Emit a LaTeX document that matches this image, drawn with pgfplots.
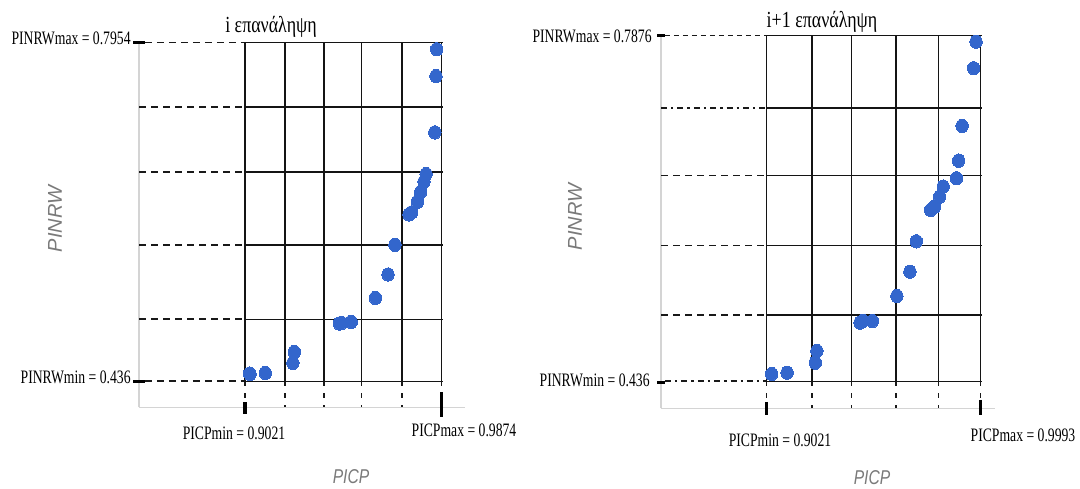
\documentclass[border=0pt]{standalone}
\usepackage{pgfplots}
\pgfplotsset{compat=1.18}
\usepackage{fontspec}
\setmainfont{Liberation Serif}
\newfontfamily\lblfont[FakeStretch=0.72]{Liberation Serif}
\newfontfamily\ttlfont[FakeStretch=0.78]{Liberation Serif}
\newfontfamily\axlfont{Liberation Sans}
\newfontfamily\axlfontn[FakeStretch=0.78]{Liberation Sans}
\definecolor{ptblue}{HTML}{3366CC}
\definecolor{axgray}{HTML}{D4D4D4}
\definecolor{lblgray}{HTML}{7A7A7A}
\tikzset{
  gridl/.style={black!92, line width=0.75pt},
  dsh/.style={black!90, line width=0.8pt, dash pattern=on 3.5pt off 2.5pt},
  dshs/.style={black!90, line width=0.8pt, dash pattern=on 2.5pt off 2pt},
  dshd/.style={black!90, line width=0.8pt, dash pattern=on 3pt off 2pt on 1.2pt off 2pt},
  vdsh/.style={black!90, line width=0.75pt, dash pattern=on 2.5pt off 3.5pt},
  tk/.style={black, line width=1.6pt},
  lbl/.style={inner sep=0pt, font=\lblfont\fontsize{9.5}{11}\selectfont},
  ttl/.style={inner sep=0pt, font=\ttlfont\fontsize{11.5}{13}\selectfont},
}
\pgfplotsset{
  panel/.style={
    anchor=south west, scale only axis,
    axis x line=bottom, axis y line=left,
    axis line style={draw=axgray, line width=0.6pt, -},
    xtick=\empty, ytick=\empty, clip=false, enlargelimits=false,
  },
  pts/.style={only marks, color=ptblue, mark=*, mark size=3.1pt,
    mark options={draw=ptblue, fill=ptblue, line width=0pt, yscale=1.08}},
}
\begin{document}
\begin{tikzpicture}
\path[use as bounding box] (0,0) rectangle (540pt,244pt);

% ---------------- left panel: i iteration ----------------
\begin{axis}[panel, at={(69.5pt,40.35pt)}, width=163pt, height=182.4pt,
  xmin=0.8561, xmax=0.9976, ymin=0.4084, ymax=0.7954]
  % dashed guides
  \draw[dsh] (axis cs:0.8587,0.7954) -- (axis cs:0.9021,0.7954);
  \draw[dsh] (axis cs:0.8561,0.7269) -- (axis cs:0.9021,0.7269);
  \draw[dsh] (axis cs:0.8561,0.6579) -- (axis cs:0.9021,0.6579);
  \draw[dsh] (axis cs:0.8561,0.5804) -- (axis cs:0.9021,0.5804);
  \draw[dsh] (axis cs:0.8561,0.5018) -- (axis cs:0.9021,0.5018);
  \draw[dsh] (axis cs:0.8587,0.4360) -- (axis cs:0.9021,0.4360);
  \draw[vdsh] (axis cs:0.9021,0.436) -- (axis cs:0.9021,0.4140);
  \draw[vdsh] (axis cs:0.9194,0.436) -- (axis cs:0.9194,0.4084);
  \draw[vdsh] (axis cs:0.9363,0.436) -- (axis cs:0.9363,0.4084);
  \draw[vdsh] (axis cs:0.9527,0.436) -- (axis cs:0.9527,0.4084);
  \draw[vdsh] (axis cs:0.9703,0.436) -- (axis cs:0.9703,0.4084);
  \draw[vdsh] (axis cs:0.9874,0.436) -- (axis cs:0.9874,0.4243);
  % grid
  \draw[gridl] (axis cs:0.9021,0.4360) -- (axis cs:0.9021,0.7954);
  \draw[gridl] (axis cs:0.9194,0.4360) -- (axis cs:0.9194,0.7954);
  \draw[gridl] (axis cs:0.9363,0.4360) -- (axis cs:0.9363,0.7954);
  \draw[gridl] (axis cs:0.9527,0.4360) -- (axis cs:0.9527,0.7954);
  \draw[gridl] (axis cs:0.9703,0.4360) -- (axis cs:0.9703,0.7954);
  \draw[gridl] (axis cs:0.9874,0.4360) -- (axis cs:0.9874,0.7954);
  \draw[gridl] (axis cs:0.9021,0.4360) -- (axis cs:0.9880,0.4360);
  \draw[gridl] (axis cs:0.9021,0.5018) -- (axis cs:0.9880,0.5018);
  \draw[gridl] (axis cs:0.9021,0.5804) -- (axis cs:0.9880,0.5804);
  \draw[gridl] (axis cs:0.9021,0.6579) -- (axis cs:0.9880,0.6579);
  \draw[gridl] (axis cs:0.9021,0.7269) -- (axis cs:0.9880,0.7269);
  \draw[gridl] (axis cs:0.9021,0.7954) -- (axis cs:0.9880,0.7954);
  % heavy ticks
  \draw[tk] (axis cs:0.8535,0.7954) -- (axis cs:0.8587,0.7954);
  \draw[tk] (axis cs:0.8535,0.4355) -- (axis cs:0.8587,0.4355);
  \draw[tk] (axis cs:0.9021,0.4140) -- (axis cs:0.9021,0.4017);
  \draw[tk] (axis cs:0.9874,0.4243) -- (axis cs:0.9874,0.3978);
  \addplot[pts] table {
x y
0.9041 0.4442
0.9043 0.4436
0.9109 0.4448
0.9229 0.4554
0.9235 0.4671
0.9430 0.4973
0.9440 0.4979
0.9482 0.4990
0.9587 0.5244
0.9642 0.5493
0.9672 0.5808
0.9733 0.6130
0.9744 0.6151
0.9769 0.6264
0.9784 0.6370
0.9798 0.6476
0.9807 0.6558
0.9845 0.7000
0.9850 0.7598
0.9853 0.7882
  };
\end{axis}

% ---------------- right panel: i+1 iteration ----------------
\begin{axis}[panel, at={(330.5pt,39.85pt)}, width=167pt, height=186.4pt,
  xmin=0.8543, xmax=1.0058, ymin=0.4085, ymax=0.7876]
  \draw[dshs] (axis cs:0.8561,0.7876) -- (axis cs:0.9021,0.7876);
  \draw[dshd] (axis cs:0.8543,0.7139) -- (axis cs:0.9021,0.7139);
  \draw[dsh]  (axis cs:0.8543,0.6451) -- (axis cs:0.9021,0.6451);
  \draw[dsh]  (axis cs:0.8543,0.5741) -- (axis cs:0.9021,0.5741);
  \draw[dsh]  (axis cs:0.8543,0.5034) -- (axis cs:0.9021,0.5034);
  \draw[dshd] (axis cs:0.8561,0.4360) -- (axis cs:0.9021,0.4360);
  \draw[vdsh] (axis cs:0.9021,0.436) -- (axis cs:0.9021,0.4140);
  \draw[vdsh] (axis cs:0.9228,0.436) -- (axis cs:0.9228,0.4085);
  \draw[vdsh] (axis cs:0.9408,0.436) -- (axis cs:0.9408,0.4085);
  \draw[vdsh] (axis cs:0.9609,0.436) -- (axis cs:0.9609,0.4085);
  \draw[vdsh] (axis cs:0.9802,0.436) -- (axis cs:0.9802,0.4085);
  \draw[vdsh] (axis cs:0.9993,0.436) -- (axis cs:0.9993,0.4160);
  \draw[gridl] (axis cs:0.9021,0.4360) -- (axis cs:0.9021,0.7876);
  \draw[gridl] (axis cs:0.9228,0.4360) -- (axis cs:0.9228,0.7876);
  \draw[gridl] (axis cs:0.9408,0.4360) -- (axis cs:0.9408,0.7876);
  \draw[gridl] (axis cs:0.9609,0.4360) -- (axis cs:0.9609,0.7876);
  \draw[gridl] (axis cs:0.9802,0.4360) -- (axis cs:0.9802,0.7876);
  \draw[gridl] (axis cs:0.9993,0.4360) -- (axis cs:0.9993,0.7876);
  \draw[gridl] (axis cs:0.9021,0.4360) -- (axis cs:0.9999,0.4360);
  \draw[gridl] (axis cs:0.9021,0.5034) -- (axis cs:0.9999,0.5034);
  \draw[gridl] (axis cs:0.9021,0.5741) -- (axis cs:0.9999,0.5741);
  \draw[gridl] (axis cs:0.9021,0.6451) -- (axis cs:0.9999,0.6451);
  \draw[gridl] (axis cs:0.9021,0.7139) -- (axis cs:0.9999,0.7139);
  \draw[gridl] (axis cs:0.9021,0.7876) -- (axis cs:0.9999,0.7876);
  \draw[tk] (axis cs:0.8525,0.7876) -- (axis cs:0.8561,0.7876);
  \draw[tk] (axis cs:0.8525,0.4346) -- (axis cs:0.8561,0.4346);
  \draw[tk] (axis cs:0.9021,0.4150) -- (axis cs:0.9021,0.4015);
  \draw[tk] (axis cs:0.9993,0.4170) -- (axis cs:0.9993,0.4015);
  \addplot[pts] table {
x y
0.9045 0.4434
0.9115 0.4447
0.9243 0.4549
0.9250 0.4668
0.9446 0.4956
0.9459 0.4973
0.9502 0.4973
0.9613 0.5227
0.9672 0.5474
0.9701 0.5783
0.9766 0.6102
0.9783 0.6135
0.9807 0.6237
0.9823 0.6339
0.9883 0.6424
0.9893 0.6603
0.9909 0.6956
0.9961 0.7543
0.9972 0.7813
  };
\end{axis}

% ---------------- texts (pixel coordinates) ----------------
\begin{scope}[shift={(0pt,244pt)}, x=0.5pt, y=-0.5pt]
  \node[lbl, anchor=base east] at (131,45) {PINRWmax = 0.7954};
  \node[lbl, anchor=base east] at (131,383) {PINRWmin = 0.436};
  \node[lbl, anchor=base] at (234,439) {PICPmin = 0.9021};
  \node[lbl, anchor=base] at (464,436) {PICPmax = 0.9874};
  \node[ttl, anchor=base] at (271,33) {i επανάληψη};
  \node[rotate=90, inner sep=0pt, text=lblgray, font=\axlfont\itshape\fontsize{10}{12}\selectfont] at (55,219) {PINRW};
  \node[anchor=base, inner sep=0pt, text=lblgray, font=\axlfontn\itshape\fontsize{10}{12}\selectfont] at (351,483) {PICP};

  \node[lbl, anchor=base east] at (652,43) {PINRWmax = 0.7876};
  \node[lbl, anchor=base east] at (650,386) {PINRWmin = 0.436};
  \node[lbl, anchor=base] at (780,446) {PICPmin = 0.9021};
  \node[lbl, anchor=base] at (1023,441) {PICPmax = 0.9993};
  \node[ttl, anchor=base] at (822,28) {i+1 επανάληψη};
  \node[rotate=90, inner sep=0pt, text=lblgray, font=\axlfont\itshape\fontsize{10}{12}\selectfont] at (575,217) {PINRW};
  \node[anchor=base, inner sep=0pt, text=lblgray, font=\axlfontn\itshape\fontsize{10}{12}\selectfont] at (872,484) {PICP};
\end{scope}
\end{tikzpicture}
\end{document}
